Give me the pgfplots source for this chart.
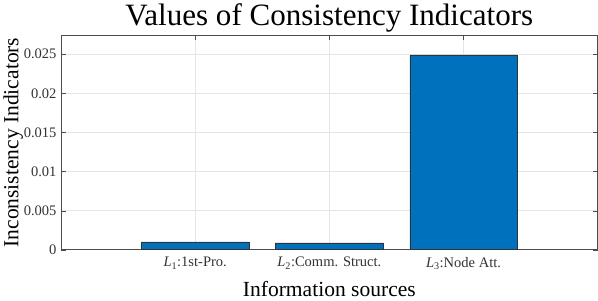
\documentclass[border=0pt]{standalone}
\usepackage{fontspec}
\setmainfont{Liberation Serif}
\usepackage{pgfplots}
\pgfplotsset{compat=1.18}
\definecolor{mblue}{rgb}{0,0.447,0.741}
\begin{document}
\begin{tikzpicture}[x=1pt,y=1pt]
\begin{axis}[
  scale only axis,
  width=536pt, height=214pt,
  xmin=0, xmax=4, ymin=0, ymax=0.0274,
  xtick={1,2,3},
  xticklabels={\textit{L}\textsubscript{1}:1st-Pro., \textit{L}\textsubscript{2}:Comm. Struct., \textit{L}\textsubscript{3}:Node Att.},
  ytick={0,0.005,0.01,0.015,0.02,0.025},
  yticklabels={0,0.005,0.01,0.015,0.02,0.025},
  scaled y ticks=false,
  tick label style={font=\fontsize{14.5}{16}\selectfont, color=black!80},
  xticklabel style={yshift=-4pt},
  yticklabel style={xshift=-1pt},
  xmajorgrids, ymajorgrids,
  grid style={color=black!10, line width=0.5pt},
  axis line style={color=black!70, line width=0.6pt},
  tick style={color=black!70},
  tick align=inside,
  major tick length=5pt,
  title={Values of Consistency Indicators},
  title style={font=\fontsize{31}{34}\selectfont, yshift=-6pt},
  xlabel={Information sources},
  ylabel={Inconsistency Indicators},
  label style={font=\fontsize{21.5}{24}\selectfont},
  xlabel style={yshift=-5pt},
  ylabel style={yshift=-6pt},
]
\addplot[ybar, bar width=0.8, fill=mblue, draw=black!80, line width=0.5pt] coordinates {(1,0.00099) (2,0.00087) (3,0.0249)};
\end{axis}
\end{tikzpicture}
\end{document}
